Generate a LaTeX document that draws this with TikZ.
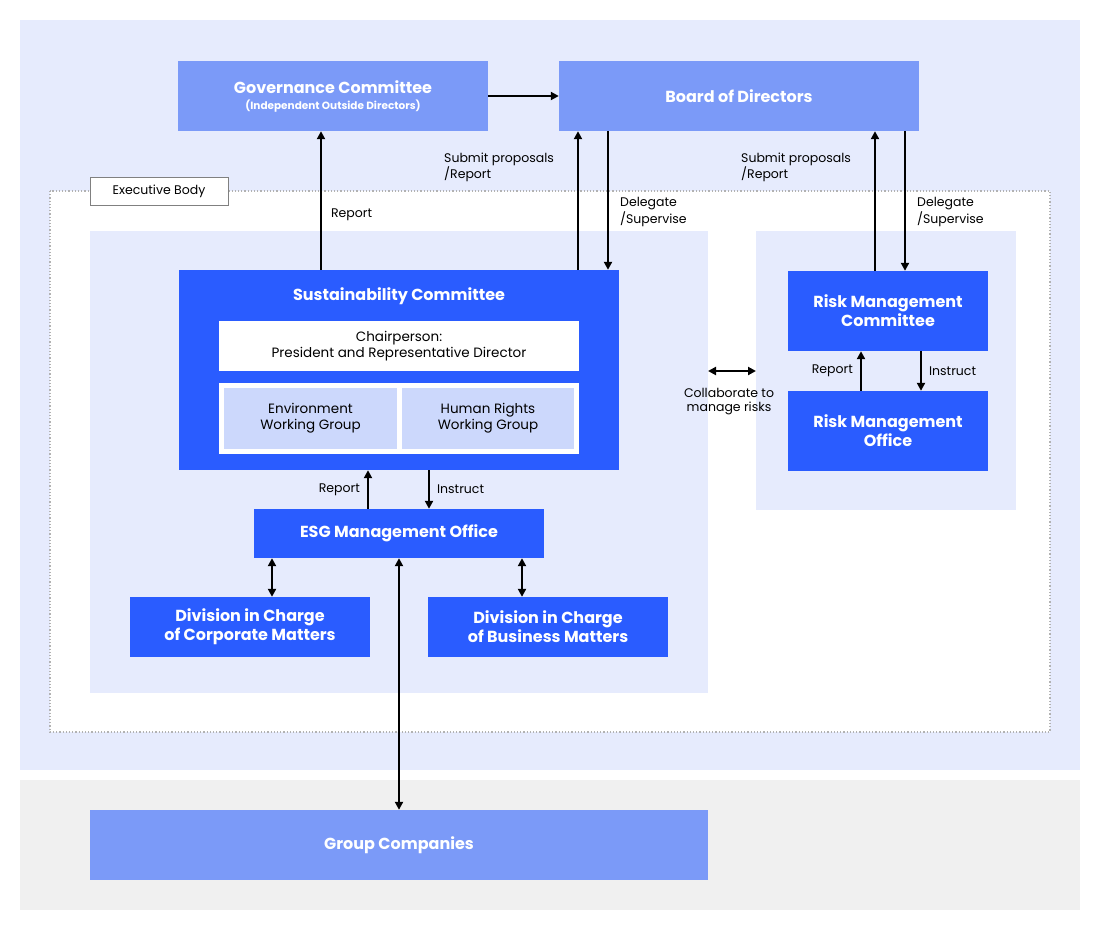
\documentclass[tikz,border=0pt]{standalone}
\usepackage{fontspec}
\setmainfont{Poppins}
\usetikzlibrary{arrows.meta, positioning}
\definecolor{PanelBlue}{HTML}{E6EBFD}
\definecolor{LightBlue}{HTML}{7B9AF8}
\definecolor{DarkBlue}{HTML}{2A5CFF}
\definecolor{GroupBlue}{HTML}{CCD8FC}
\definecolor{GreyBg}{HTML}{F0F0F0}

\begin{document}
\begin{tikzpicture}[x=1pt, y=-1pt,
                box/.style={rectangle, inner sep=0pt, align=center, text=white, font=\fontsize{16}{19}\selectfont\bfseries},
                light/.style={box, fill=LightBlue},
                dark/.style={box, fill=DarkBlue},
                note/.style={font=\fontsize{12.5}{14}\selectfont, align=left, inner sep=1pt},
                arr/.style={-{Triangle[length=8pt, width=8pt]}, line width=2.2pt},
                both/.style={{Triangle[length=8pt, width=8pt]}-{Triangle[length=8pt, width=8pt]}, line width=2.2pt}
            ]
            \useasboundingbox (0,0) rectangle (1100,929);

            % backgrounds
            \fill[PanelBlue] (20,20) rectangle (1080,770);
            \fill[GreyBg] (20,780) rectangle (1080,910);
            \draw[gray!60, dotted, line width=1.2pt, fill=white] (50,191) rectangle (1050,732);
            \node[draw=gray, line width=1pt, fill=white, minimum width=138pt, minimum height=28pt, inner sep=0pt,
                  font=\fontsize{12.5}{14}\selectfont] (exec) at (159,191) {Executive Body};
            \fill[PanelBlue] (90,231) rectangle (708,693);
            \fill[PanelBlue] (756,231) rectangle (1016,510);

            % boxes
            \node[light, minimum width=310pt, minimum height=70pt] (gov) at (333,96)
                {Governance Committee\\[-3pt]{\fontsize{10.5}{12}\selectfont (Independent Outside Directors)}};
            \node[light, minimum width=360pt, minimum height=70pt] (board) at (739,96) {Board of Directors};
            \node[dark, minimum width=440pt, minimum height=200pt] (sust) at (399,370) {};
            \node[box] (susttitle) at (399,296) {Sustainability Committee};
            \node[fill=white, minimum width=360pt, minimum height=50pt, inner sep=0pt, align=center,
                  font=\fontsize{13.5}{16}\selectfont] (chair) at (399,346)
                {Chairperson:\\President and Representative Director};
            \node[fill=white, minimum width=360pt, minimum height=71pt, inner sep=0pt] (wg) at (399,418.5) {};
            \node[fill=GroupBlue, minimum width=173pt, minimum height=61pt, inner sep=0pt, align=center,
                  font=\fontsize{13.5}{16}\selectfont] (env) at (310.5,418.5) {Environment\\Working Group};
            \node[fill=GroupBlue, minimum width=172pt, minimum height=61pt, inner sep=0pt, align=center,
                  font=\fontsize{13.5}{16}\selectfont] (hr) at (488,418.5) {Human Rights\\Working Group};
            \node[dark, minimum width=290pt, minimum height=49pt] (esg) at (399,533.5) {ESG Management Office};
            \node[dark, minimum width=240pt, minimum height=60pt] (corp) at (250,627) {Division in Charge\\of Corporate Matters};
            \node[dark, minimum width=240pt, minimum height=60pt] (bus) at (548,627) {Division in Charge\\of Business Matters};
            \node[light, minimum width=618pt, minimum height=70pt] (group) at (399,845) {Group Companies};
            \node[dark, minimum width=200pt, minimum height=80pt] (rmc) at (888,311) {Risk Management\\Committee};
            \node[dark, minimum width=200pt, minimum height=80pt] (rmo) at (888,431) {Risk Management\\Office};

            % connectors
            \draw[arr] (gov) -- (board);
            \draw[arr] (sust.north -| 321,0) -- node[note, right=8pt, pos=0.4] (rep1) {Report} (gov.south -| 321,0);
            \draw[arr] (sust.north -| 578,0) -- (board.south -| 578,0);
            \draw[arr] (board.south -| 608,0) -- (sust.north -| 608,0);
            \draw[arr] (rmc.north -| 875,0) -- (board.south -| 875,0);
            \draw[arr] (board.south -| 905,0) -- (rmc.north -| 905,0);
            \node[note, anchor=west] (sub1) at (443,167) {Submit proposals\\/Report};
            \node[note, anchor=west] (del1) at (619,212) {Delegate\\/Supervise};
            \node[note, anchor=west] (sub2) at (740,167) {Submit proposals\\/Report};
            \node[note, anchor=west] (del2) at (916,212) {Delegate\\/Supervise};

            \draw[arr] (rmo.north -| 861,0) -- node[note, left=6pt] (rep2) {Report} (rmc.south -| 861,0);
            \draw[arr] (rmc.south -| 921,0) -- node[note, right=6pt] (ins2) {Instruct} (rmo.north -| 921,0);
            \draw[arr] (esg.north -| 368,0) -- node[note, left=6pt] (rep3) {Report} (sust.south -| 368,0);
            \draw[arr] (sust.south -| 429,0) -- node[note, right=6pt] (ins3) {Instruct} (esg.north -| 429,0);

            \draw[both] (esg.south -| 272,0) -- (corp.north -| 272,0);
            \draw[both] (esg.south -| 522,0) -- (bus.north -| 522,0);
            \draw[both] (esg.south -| 399,0) -- (group.north -| 399,0);

            \coordinate (collA) at (708,371);
            \coordinate (collB) at (756,371);
            \draw[both] (collA) -- (collB);
            \node[note, align=center] (coll) at (729,402) {Collaborate to\\manage risks};

        \end{tikzpicture}
\end{document}
